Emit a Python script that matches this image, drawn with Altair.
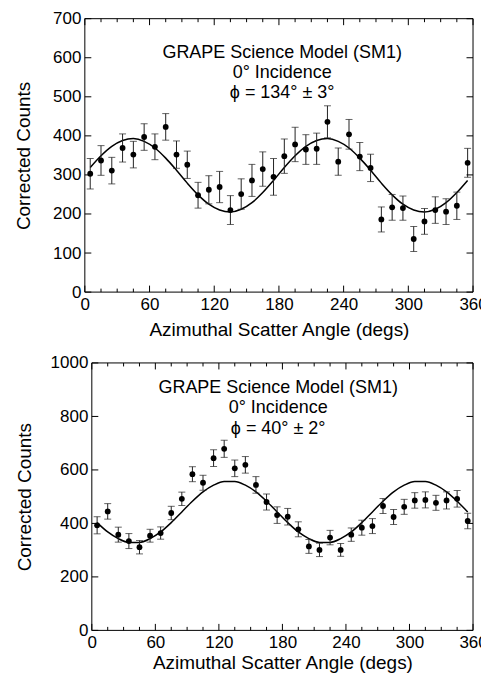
import altair as alt
import pandas as pd

FONT = "Liberation Sans"

angles = [5, 15, 25, 35, 45, 55, 65, 75, 85, 95, 105, 115, 125, 135, 145, 155, 165, 175,
          185, 195, 205, 215, 225, 235, 245, 255, 265, 275, 285, 295, 305, 315, 325, 335, 345, 355]

top_counts = [303, 337, 311, 369, 352, 397, 372, 423, 352, 326, 248, 262, 269, 210, 251, 286, 315, 295,
              348, 378, 365, 367, 436, 334, 404, 347, 318, 186, 217, 215, 136, 181, 210, 206, 221, 331]
top_errs = [39, 38, 34, 36, 34, 34, 33, 34, 35, 35, 33, 36, 40, 37, 39, 41, 44, 47,
            44, 44, 38, 40, 41, 35, 38, 36, 35, 32, 33, 31, 32, 33, 34, 33, 35, 37]
top_model = [319, 349, 373, 388, 393, 386, 369, 343, 312, 279, 249, 225, 210, 205, 212, 229, 255, 286,
             319, 349, 373, 388, 393, 386, 369, 343, 312, 279, 249, 225, 210, 205, 212, 229, 255, 286]

bot_counts = [393, 445, 358, 334, 311, 354, 364, 439, 492, 584, 552, 644, 679, 606, 619, 544, 480, 431,
              425, 378, 314, 301, 347, 301, 358, 384, 390, 465, 424, 462, 486, 488, 477, 486, 492, 409]
bot_errs = [32, 29, 28, 28, 25, 24, 23, 25, 25, 28, 28, 31, 32, 31, 31, 31, 30, 31,
            31, 28, 26, 25, 27, 24, 25, 28, 28, 28, 28, 28, 29, 30, 28, 32, 31, 29]
bot_model = [403, 368, 343, 329, 329, 343, 368, 403, 443, 483, 518, 543, 557, 557, 543, 518, 483, 443,
             403, 368, 343, 329, 329, 343, 368, 403, 443, 483, 518, 543, 557, 557, 543, 518, 483, 443]

major_x = [0, 60, 120, 180, 240, 300, 360]
minor_x = [15, 30, 45, 75, 90, 105, 135, 150, 165, 195, 210, 225, 255, 270, 285, 315, 330, 345]
top_yticks = [0, 100, 200, 300, 400, 500, 600, 700]
bot_yticks = [0, 200, 400, 600, 800, 1000]

top_notes = ["GRAPE Science Model (SM1)", "0\u00b0 Incidence", "\u03d5 = 134\u00b0 \u00b1 3\u00b0"]
top_note_y = [599, 548, 498]
top_note_x = 183
bot_notes = ["GRAPE Science Model (SM1)", "0\u00b0 Incidence", "\u03d5 = 40\u00b0 \u00b1 2\u00b0"]
bot_note_y = [886, 811, 736]
bot_note_x = 176

ERR_COLOR = "#222222"
MAJ = 6.5
MIN = 3.5


def panel(counts, errs, model, ymax, yticks, W, H, x0, notes, note_x, note_y, ytitle_pad, xtitle_pad):
    df = pd.DataFrame({
        "angle": angles,
        "counts": counts,
        "lo": [c - e for c, e in zip(counts, errs)],
        "hi": [c + e for c, e in zip(counts, errs)],
    })
    caps = pd.DataFrame({"angle": angles + angles,
                         "cap": list(df["lo"]) + list(df["hi"])})
    mdf = pd.DataFrame({"angle": angles, "model": model})
    notes_df = pd.DataFrame({"x": [note_x] * len(notes), "y": note_y, "label": notes})
    one = pd.DataFrame({"k": [0]})
    majors = pd.DataFrame({"t": major_x})
    minors = pd.DataFrame({"t": minor_x})
    ydf = pd.DataFrame({"t": yticks})

    xscale = alt.Scale(domain=[0, 360], nice=False, zero=False, range=[x0, W])
    yscale = alt.Scale(domain=[0, ymax], nice=False, zero=True)
    common = dict(grid=False, ticks=False, tickSize=0, domain=False, labelFlush=False,
                  labelOverlap=False, labelFont=FONT, labelFontSize=17, labelColor="black",
                  labelPadding=4, titleFont=FONT, titleFontSize=19, titleFontWeight="normal",
                  titleColor="black", format="d")
    xaxis = alt.Axis(values=major_x, title="Azimuthal Scatter Angle (degs)",
                     titlePadding=xtitle_pad, **common)
    yaxis = alt.Axis(values=yticks, title="Corrected Counts", titlePadding=ytitle_pad,
                     offset=-x0, **common)

    def X(f):
        return alt.X(f"{f}:Q", scale=xscale, axis=xaxis)

    def Y(f):
        return alt.Y(f"{f}:Q", scale=yscale, axis=yaxis)

    layers = []
    layers.append(alt.Chart(mdf).mark_line(color="black", strokeWidth=1.5, interpolate="monotone")
                  .encode(x=X("angle"), y=Y("model")))
    layers.append(alt.Chart(df).mark_rule(color=ERR_COLOR, strokeWidth=1)
                  .encode(x=X("angle"), y=Y("lo"), y2="hi:Q"))
    layers.append(alt.Chart(caps).mark_tick(orient="horizontal", size=7, thickness=1, color=ERR_COLOR)
                  .encode(x=X("angle"), y=Y("cap")))
    layers.append(alt.Chart(df).mark_circle(size=34, color="black", opacity=1)
                  .encode(x=X("angle"), y=Y("counts")))
    layers.append(alt.Chart(one).mark_rule(color="black", strokeWidth=1)
                  .encode(x=alt.value(x0), y=alt.value(0), y2=alt.value(H)))
    layers.append(alt.Chart(one).mark_rule(color="black", strokeWidth=1)
                  .encode(x=alt.value(W), y=alt.value(0), y2=alt.value(H)))
    layers.append(alt.Chart(one).mark_rule(color="black", strokeWidth=1)
                  .encode(x=alt.value(x0), x2=alt.value(W), y=alt.value(0)))
    layers.append(alt.Chart(one).mark_rule(color="black", strokeWidth=1)
                  .encode(x=alt.value(x0), x2=alt.value(W), y=alt.value(H)))
    for d, L in ((majors, MAJ), (minors, MIN)):
        layers.append(alt.Chart(d).mark_rule(color="black", strokeWidth=1)
                      .encode(x=X("t"), y=alt.value(H), y2=alt.value(H - L)))
        layers.append(alt.Chart(d).mark_rule(color="black", strokeWidth=1)
                      .encode(x=X("t"), y=alt.value(0), y2=alt.value(L)))
    layers.append(alt.Chart(ydf).mark_rule(color="black", strokeWidth=1)
                  .encode(y=Y("t"), x=alt.value(x0), x2=alt.value(x0 + MAJ)))
    layers.append(alt.Chart(ydf).mark_rule(color="black", strokeWidth=1)
                  .encode(y=Y("t"), x=alt.value(W), x2=alt.value(W - MAJ)))
    layers.append(alt.Chart(notes_df).mark_text(font=FONT, fontSize=18, align="center",
                                                baseline="alphabetic", color="black")
                  .encode(x=X("x"), y=Y("y"), text="label:N"))

    return alt.layer(*layers).properties(width=W, height=H)


top = panel(top_counts, top_errs, top_model, 700, top_yticks, 389, 274, 0,
            top_notes, top_note_x, top_note_y, 19, 8)
bottom = panel(bot_counts, bot_errs, bot_model, 1000, bot_yticks, 389, 268, 7,
               bot_notes, bot_note_x, bot_note_y, 16, 3)

chart = (alt.vconcat(top, bottom, spacing=15)
         .properties(padding={"left": 6, "top": 1, "right": -7, "bottom": 0}, background="white")
         .configure_view(stroke=None))

chart.save("out.html", embed_options={"renderer": "svg", "actions": False})
